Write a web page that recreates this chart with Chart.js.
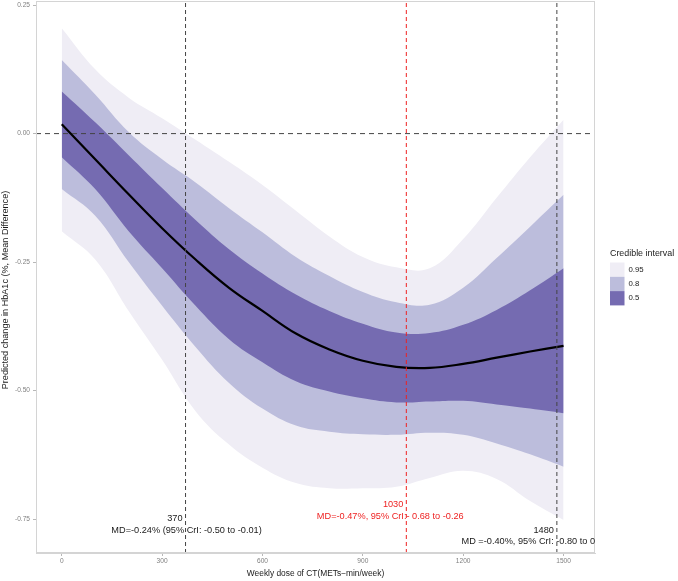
<!DOCTYPE html>
<html><head><meta charset="utf-8">
<script src="https://cdn.jsdelivr.net/npm/chart.js@4.4.1/dist/chart.umd.min.js"></script>
<style>html,body{margin:0;padding:0;background:#fff}#wrap{width:678px;height:581px;position:relative}</style>
</head><body><div id="wrap"><canvas id="c" width="678" height="581"></canvas></div>
<script>
// ---- data ----
const doses    = [0, 100, 200, 300, 400, 500, 600, 700, 800, 900, 1000, 1100, 1200, 1300, 1400, 1500];
const meanMD   = [0.018, -0.050, -0.118, -0.184, -0.245, -0.300, -0.345, -0.389, -0.420, -0.442, -0.454, -0.456, -0.448, -0.436, -0.424, -0.413];
const upper50  = [0.082, 0.022, -0.042, -0.106, -0.168, -0.225, -0.272, -0.313, -0.345, -0.370, -0.387, -0.388, -0.372, -0.343, -0.305, -0.262];
const lower50  = [-0.046, -0.108, -0.190, -0.262, -0.335, -0.400, -0.445, -0.482, -0.502, -0.515, -0.523, -0.521, -0.520, -0.527, -0.535, -0.544];
const upper80  = [0.143, 0.076, 0.003, -0.050, -0.095, -0.145, -0.192, -0.240, -0.277, -0.308, -0.328, -0.333, -0.300, -0.242, -0.181, -0.119];
const lower80  = [-0.108, -0.160, -0.250, -0.335, -0.415, -0.485, -0.535, -0.568, -0.580, -0.585, -0.586, -0.582, -0.586, -0.603, -0.624, -0.648];
const upper95  = [0.205, 0.125, 0.070, 0.030, -0.012, -0.055, -0.100, -0.150, -0.200, -0.240, -0.260, -0.262, -0.205, -0.125, -0.046, 0.027];
const lower95  = [-0.190, -0.245, -0.345, -0.440, -0.540, -0.605, -0.650, -0.680, -0.690, -0.690, -0.687, -0.670, -0.656, -0.672, -0.715, -0.752];
const xTicks   = [0, 300, 600, 900, 1200, 1500];
const yTicks   = [0.25, 0, -0.25, -0.5, -0.75];
const yTickLabels = ['0.25', '0.00', '-0.25', '-0.50', '-0.75'];
const refDoses = [370, 1030, 1480];
const refTopText = ['370', '1030', '1480'];
const refMDText  = ['MD=-0.24% (95% CrI: -0.50 to -0.01)', 'MD=-0.47%, 95% CrI:- 0.68 to -0.26', 'MD =-0.40%, 95% CrI: -0.80 to 0'];
const xTitle = 'Weekly dose of CT(METs\u2212min/week)';
const yTitle = 'Predicted change in HbA1c (%, Mean Difference)';
const legendTitle = 'Credible interval';
const legendLevels = ['0.95', '0.8', '0.5'];

// ---- styling ----
const FONT = "'Liberation Sans', Arial, Helvetica, sans-serif";
const bandColors = ['#efedf5', '#bcbddc', '#756bb1'];
const refColors = ['#444444', '#ee2222', '#444444'];
const textColors = ['#1a1a1a', '#ee2222', '#1a1a1a'];
const X_MIN = -77, X_MAX = 1594, Y_MIN = -0.816, Y_MAX = 0.258;

const pts = arr => doses.map((d, i) => ({x: d, y: arr[i]}));
const band = (arr, color, order, fillTarget) => ({
  data: pts(arr), borderWidth: 0, pointRadius: 0, borderColor: 'rgba(0,0,0,0)',
  backgroundColor: color, fill: fillTarget === undefined ? false : {target: fillTarget},
  tension: 0.4, order: order
});

const datasets = [
  band(upper95, bandColors[0], 6, 1),
  band(lower95, bandColors[0], 6),
  band(upper80, bandColors[1], 4, 3),
  band(lower80, bandColors[1], 4),
  band(upper50, bandColors[2], 2, 5),
  band(lower50, bandColors[2], 2),
  {data: pts(meanMD), borderColor: '#000', borderWidth: 2.2, pointRadius: 0, fill: false,
   tension: 0.4, order: 1}
];
refDoses.forEach((d, i) => datasets.push({
  data: [{x: d, y: Y_MIN}, {x: d, y: Y_MAX}], borderColor: refColors[i], borderWidth: 1,
  borderDash: [4, 3], pointRadius: 0, fill: false, order: 0
}));
datasets.push({data: [{x: X_MIN, y: 0}, {x: X_MAX, y: 0}], borderColor: '#444', borderWidth: 1,
  borderDash: [5, 4], pointRadius: 0, fill: false, order: 0});

const decorPlugin = {
  id: 'decor',
  afterDraw(chart) {
    const {ctx, chartArea: a, scales: {x, y}} = chart;
    ctx.save();
    // panel border
    ctx.strokeStyle = '#d4d4d4'; ctx.lineWidth = 1;
    ctx.strokeRect(a.left + 0.5, a.top + 0.5, a.right - a.left - 1, a.bottom - a.top - 1);
    // y axis title
    ctx.save();
    ctx.translate(5.5, 290); ctx.rotate(-Math.PI / 2);
    ctx.font = '9.1px ' + FONT; ctx.fillStyle = '#1a1a1a';
    ctx.textAlign = 'center'; ctx.textBaseline = 'middle';
    ctx.fillText(yTitle, 0, 0);
    ctx.restore();
    // annotations
    ctx.save();
    ctx.beginPath(); ctx.rect(a.left, a.top, a.right - a.left, a.bottom - a.top); ctx.clip();
    ctx.font = '9.2px ' + FONT; ctx.textBaseline = 'middle';
    const topYs = [-0.749, -0.722, -0.772];
    const mdXs = [373, 982, 1195];
    const mdAlign = ['center', 'center', 'left'];
    refDoses.forEach((d, i) => {
      const px = x.getPixelForValue(d);
      const py = y.getPixelForValue(topYs[i]);
      ctx.fillStyle = textColors[i];
      ctx.textAlign = 'right';
      ctx.fillText(refTopText[i], px - 3, py);
      ctx.textAlign = mdAlign[i];
      ctx.fillText(refMDText[i], x.getPixelForValue(mdXs[i]), py + 11.5);
    });
    ctx.restore();
    // legend
    ctx.textBaseline = 'middle'; ctx.textAlign = 'left';
    ctx.fillStyle = '#1a1a1a'; ctx.font = '8.9px ' + FONT;
    ctx.fillText(legendTitle, 610, 253.5);
    ctx.font = '7.8px ' + FONT;
    legendLevels.forEach((lab, i) => {
      const top = 262.5 + i * 14.3;
      ctx.fillStyle = bandColors[i];
      ctx.fillRect(610, top, 14.5, 14.3);
      ctx.fillStyle = '#1a1a1a';
      ctx.fillText(lab, 628.5, top + 7.2);
    });
    ctx.restore();
  }
};

new Chart(document.getElementById('c'), {
  type: 'line',
  data: {datasets},
  options: {
    responsive: false, devicePixelRatio: 1, animation: false,
    layout: {padding: {left: 0, right: 83, top: 1, bottom: 0}},
    plugins: {legend: {display: false}, tooltip: {enabled: false}},
    scales: {
      x: {
        type: 'linear', min: X_MIN, max: X_MAX,
        afterBuildTicks: s => { s.ticks = xTicks.map(v => ({value: v})); },
        afterFit: s => { s.height = 28; s.paddingLeft = 0; s.paddingRight = 0; },
        ticks: {font: {size: 6.6, family: FONT}, color: '#808080', padding: 1, maxRotation: 0, autoSkip: false,
                callback: v => String(v)},
        grid: {drawOnChartArea: false, drawTicks: true, tickLength: 3, color: '#b8b8b8'},
        border: {display: true, color: '#d4d4d4'},
        title: {display: true, text: xTitle, font: {size: 8.4, family: FONT},
                color: '#1a1a1a', padding: {top: 0, bottom: 2}}
      },
      y: {
        type: 'linear', min: Y_MIN, max: Y_MAX,
        afterBuildTicks: s => { s.ticks = yTicks.map(v => ({value: v})); },
        afterFit: s => { s.width = 36; s.paddingTop = 0; s.paddingBottom = 0; },
        ticks: {font: {size: 6.6, family: FONT}, color: '#808080', padding: 3, autoSkip: false,
                callback: (v, i) => yTickLabels[yTicks.indexOf(v)]},
        grid: {drawOnChartArea: false, drawTicks: true, tickLength: 3, color: '#b8b8b8'},
        border: {display: true, color: '#d4d4d4'},
        title: {display: false}
      }
    }
  },
  plugins: [decorPlugin]
});
</script></body></html>
